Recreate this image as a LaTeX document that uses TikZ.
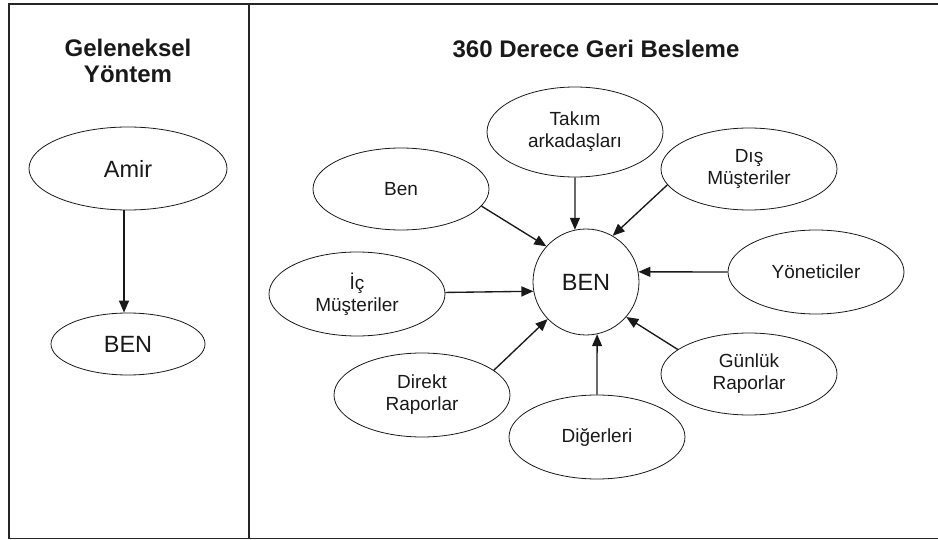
\documentclass[tikz,border=0pt]{standalone}
\usepackage{fontspec}
\setmainfont{Liberation Sans}
\usetikzlibrary{shapes.geometric,arrows.meta}
\begin{document}
\begin{tikzpicture}[x=1pt,y=-1pt,
  frame/.style={line width=1.8pt,draw=black!85},
  oval/.style={ellipse,draw=black!90,line width=0.8pt,inner sep=0pt,align=center,
     font=\fontsize{19}{22}\selectfont,text=black!90},
  bigoval/.style={oval,font=\fontsize{23.5}{26}\selectfont},
  ttl/.style={align=center,font=\fontsize{24}{26}\selectfont\bfseries,text=black!90},
  arr/.style={line width=1.35pt,draw=black!90,-{Triangle[length=12pt,width=10pt]}}]
\useasboundingbox (0,0) rectangle (938,540);
% frame
\draw[frame] (960,4) -- (8.7,4) -- (8.7,538.5) -- (960,538.5);
\draw[frame] (248.7,4) -- (248.7,538.5);
% left column
\node[ttl] (t1) at (128,61) {Geleneksel\\Yöntem};
\node[bigoval,minimum width=198pt,minimum height=83pt] (amir) at (128,168.5) {Amir};
\node[bigoval,minimum width=154pt,minimum height=62pt] (benl) at (128,344) {BEN};
\draw[arr] ([xshift=-4pt]amir.south) -- ([xshift=-4pt]amir.south |- benl.north);
% right column
\node[ttl] (t2) at (596,49) {360 Derece Geri Besleme};
\node[circle,draw=black!90,line width=0.8pt,minimum size=106pt,inner sep=0pt,
  font=\fontsize{23.5}{26}\selectfont,text=black!90] (c) at (586,282) {BEN};
\node[oval,minimum width=176pt,minimum height=90pt] (takim) at (575,132) {Takım\\arkadaşları};
\node[oval,minimum width=176pt,minimum height=82pt] (ben) at (401,189) {Ben};
\node[oval,minimum width=176pt,minimum height=82pt] (dis) at (749,169) {Dış\\Müşteriler};
\node[oval,minimum width=176pt,minimum height=84pt] (yon) at (816,272) {Yöneticiler};
\node[oval,minimum width=176pt,minimum height=84pt] (ic) at (357,294) {İç\\Müşteriler};
\node[oval,minimum width=176pt,minimum height=82pt] (gun) at (749,374) {Günlük\\Raporlar};
\node[oval,minimum width=176pt,minimum height=84pt] (dir) at (422,395) {Direkt\\Raporlar};
\node[oval,minimum width=176pt,minimum height=84pt] (dig) at (597,437) {Diğerleri};
% arrows
\draw[arr] (ben.-12.5) -- (c.138);
\draw[arr] (takim.south) -- (c.102);
\draw[arr] (dis.191.7) -- (c.60);
\draw[arr] (yon.west) -- (c.11);
\draw[arr] (gun.161) -- (c.-41);
\draw[arr] (dig.north) -- (c.-78);
\draw[arr] (dir.19.7) -- (c.224);
\draw[arr] (ic.1) -- (c.190.5);
\end{tikzpicture}
\end{document}
